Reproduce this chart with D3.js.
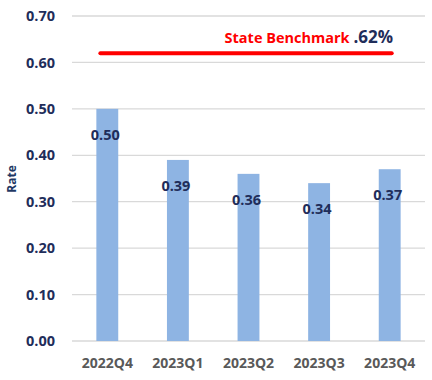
<!DOCTYPE html>
<html><head><meta charset="utf-8">
<script src="https://cdn.jsdelivr.net/npm/d3@7"></script>
<style>body{margin:0;background:#fff}svg{display:block}</style>
</head><body><svg id="c" width="432" height="380"></svg>
<script>
const categories = ["2022Q4","2023Q1","2023Q2","2023Q3","2023Q4"];
const rates = [0.50, 0.39, 0.36, 0.34, 0.37];
const yTicks = [0,0.1,0.2,0.3,0.4,0.5,0.6,0.7];
const benchmark = 0.62;
const benchLabel = "State Benchmark";
const benchValueLabel = ".62%";

const svg = d3.select("#c");
const font = "'Open Sans', sans-serif";
const x = d3.scaleBand().domain(categories).range([72,425]).paddingInner(0.69).paddingOuter(0.345);
const y = d3.scaleLinear().domain([0,0.7]).range([341,16]);

svg.append("g").selectAll("line").data(yTicks).join("line")
  .attr("x1",72).attr("x2",425).attr("y1",d=>y(d)).attr("y2",d=>y(d))
  .attr("stroke","#d9d9d9").attr("stroke-width",1.3);

const yAxis = d3.axisLeft(y).tickValues(yTicks).tickFormat(d3.format(".2f")).tickSize(0).tickPadding(0);
svg.append("g").attr("transform","translate(55,0)").call(yAxis)
  .call(g=>g.select(".domain").remove())
  .selectAll("text").attr("font-family",font).attr("font-weight","bold").attr("font-size",14.5).attr("fill","#1f2d5a");

svg.append("text").attr("transform","translate(16,179) rotate(-90)").attr("text-anchor","middle")
  .attr("font-family",font).attr("font-weight","bold").attr("font-size",12).attr("fill","#1f3864").text("Rate");

svg.append("g").selectAll("rect").data(rates).join("rect")
  .attr("x",(d,i)=>x(categories[i])).attr("width",x.bandwidth())
  .attr("y",d=>y(d)).attr("height",d=>y(0)-y(d)).attr("fill","#8eb4e3");

svg.append("g").selectAll("text").data(rates).join("text")
  .attr("x",(d,i)=>x(categories[i])+x.bandwidth()/2-2).attr("y",d=>y(d)+31)
  .attr("text-anchor","middle").attr("font-family",font).attr("font-weight","bold").attr("font-size",14.5)
  .attr("fill","#1f2d5a").text(d=>d3.format(".2f")(d));

const xAxis = d3.axisBottom(x).tickSize(0).tickPadding(0);
svg.append("g").attr("transform","translate(0,363)").call(xAxis)
  .call(g=>g.select(".domain").remove())
  .selectAll("text").attr("dy","0.35em").attr("font-family",font).attr("font-weight","bold").attr("font-size",14).attr("fill","#595959");

svg.append("line").attr("x1",x(categories[0])+4).attr("x2",x(categories[4])+x.bandwidth()/2+2)
  .attr("y1",y(benchmark)).attr("y2",y(benchmark))
  .attr("stroke","#ff0000").attr("stroke-width",4).attr("stroke-linecap","round");

const bt = svg.append("text").attr("x",393).attr("y",43).attr("text-anchor","end").attr("font-family",font).attr("font-weight","bold");
bt.append("tspan").attr("font-size",14.5).attr("fill","#ff0000").text(benchLabel+" ");
bt.append("tspan").attr("font-size",17).attr("fill","#1f2d5a").text(benchValueLabel);
</script></body></html>
